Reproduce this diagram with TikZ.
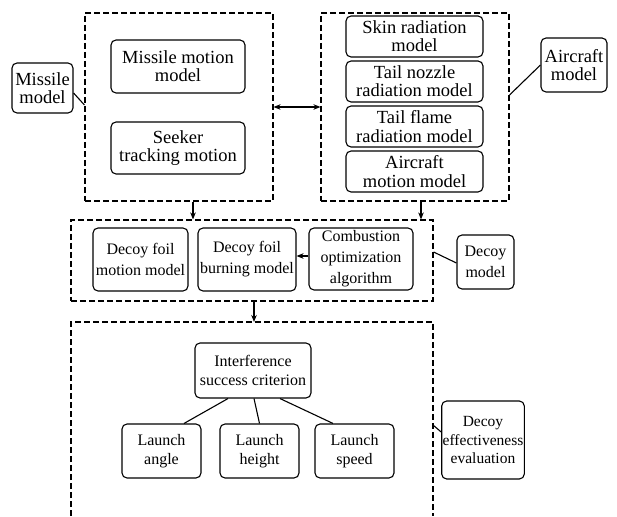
\documentclass[tikz,border=0pt]{standalone}
\usepackage{fontspec}
\setmainfont{Liberation Serif}
\usetikzlibrary{arrows.meta}

\begin{document}
\begin{tikzpicture}[x=1pt, y=1pt, line width=1.1pt,
    every node/.style={inner sep=2pt, align=center, font=\fontsize{18.5}{18.3}\selectfont},
    box/.style={draw, rounded corners=5pt},
    grp/.style={draw, dash pattern=on 6pt off 3pt},
    tag/.style={draw, rounded corners=5pt},
    mid/.style={font=\fontsize{16}{21}\selectfont},
    low/.style={font=\fontsize{16}{19}\selectfont},
    arr/.style={-{Stealth[length=7pt, width=5.5pt]}},
    biarr/.style={{Stealth[length=7pt, width=5.5pt]}-{Stealth[length=7pt, width=5.5pt]}}]
  \useasboundingbox (0,0) rectangle (617,516);
  \node[grp, minimum width=188, minimum height=188] (missilegrp) at (179,409) {};
  \node[box, minimum width=134, minimum height=53] (mmotion) at (178,449.5) {Missile motion\\model};
  \node[box, minimum width=134, minimum height=52] (seeker) at (178,368) {Seeker\\tracking motion};
  \node[tag, minimum width=61, minimum height=50] (mtag) at (42.5,428) {Missile\\model};
  \draw ([yshift=-5pt]mtag.east) -- ([yshift=2pt]missilegrp.west);
  \node[grp, minimum width=188, minimum height=188] (aircraftgrp) at (415,409) {};
  \node[box, minimum width=137, minimum height=41] (skin) at (414.5,479.5) {Skin radiation\\model};
  \node[box, minimum width=137, minimum height=41] (nozzle) at (414.5,434.5) {Tail nozzle\\radiation model};
  \node[box, minimum width=137, minimum height=41] (flame) at (414.5,389.5) {Tail flame\\radiation model};
  \node[box, minimum width=137, minimum height=41] (amotion) at (414.5,344.5) {Aircraft\\motion model};
  \node[tag, minimum width=66, minimum height=54] (atag) at (574,451) {Aircraft\\model};
  \draw ([yshift=12pt]aircraftgrp.east) -- (atag.west);
  \draw[biarr] (missilegrp.east) -- (aircraftgrp.west);
  \node[grp, minimum width=362, minimum height=81] (decoygrp) at (252,255.5) {};
  \node[box, mid, minimum width=95, minimum height=63] (foil) at (140.5,256.5) {Decoy foil\\motion model};
  \node[box, mid, minimum width=98, minimum height=63] (burn) at (247,256.5) {Decoy foil\\burning model};
  \node[box, mid, minimum width=104, minimum height=62] (comb) at (361,257) {Combustion\\optimization\\algorithm};
  \node[tag, mid, minimum width=57, minimum height=54] (dtag) at (485.5,254) {Decoy\\model};
  \draw ([yshift=8.5pt]decoygrp.east) -- ([yshift=-1pt]dtag.west);
  \draw[arr] ([yshift=3pt]comb.west) -- ([yshift=3.5pt]burn.east);
  \draw[arr] ([xshift=14pt]missilegrp.south) -- ([xshift=14pt]missilegrp.south |- decoygrp.north);
  \draw[arr] ([xshift=6pt]aircraftgrp.south) -- ([xshift=6pt]aircraftgrp.south |- decoygrp.north);
  \coordinate (evalnw) at (71,194);
  \coordinate (evalne) at (433,194);
  \draw[grp] (71,0) -- (evalnw) -- (evalne) -- (433,0);
  \draw[arr] ([xshift=2pt]decoygrp.south) -- ([xshift=2pt]decoygrp.south |- evalnw);
  \node[box, low, minimum width=116, minimum height=55] (crit) at (253,145.5) {Interference\\success criterion};
  \node[box, low, minimum width=79, minimum height=54] (angle) at (161.5,65) {Launch\\angle};
  \node[box, low, minimum width=79, minimum height=54] (height) at (259.5,65) {Launch\\height};
  \node[box, low, minimum width=79, minimum height=54] (speed) at (354.5,65) {Launch\\speed};
  \draw ([xshift=-25pt]crit.south) -- ([xshift=22.5pt]angle.north);
  \draw ([xshift=1pt]crit.south) -- (height.north);
  \draw ([xshift=27pt]crit.south) -- ([xshift=-21.5pt]speed.north);
  \node[tag, font=\fontsize{15.5}{18.3}\selectfont, inner sep=1pt, minimum width=78, minimum height=78] (etag) at (483,76) {Decoy\\effectiveness\\evaluation};
  \draw ([yshift=15pt]evalne |- etag.west) -- ([yshift=8pt]etag.west);
\end{tikzpicture}
\end{document}
